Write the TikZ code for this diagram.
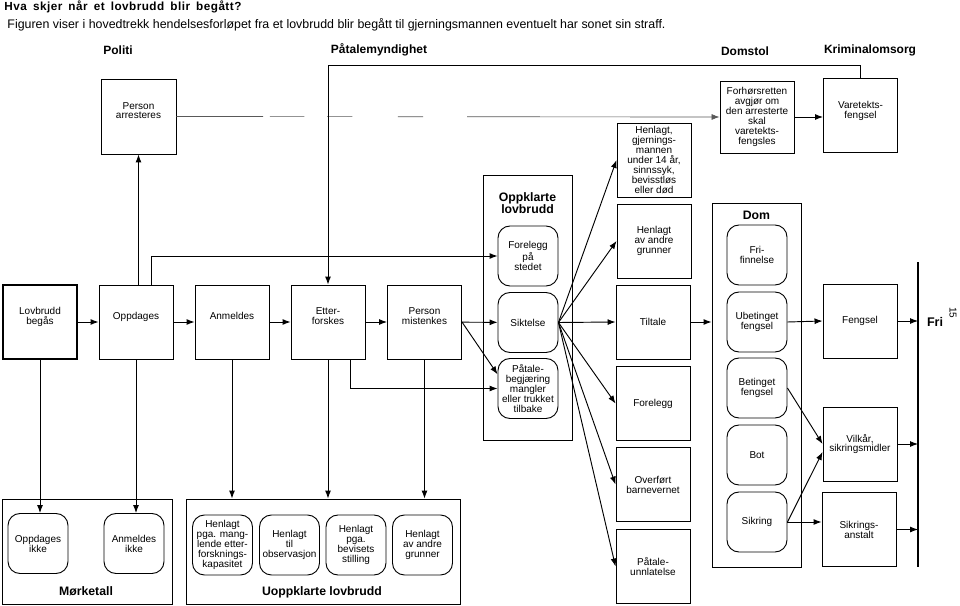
\documentclass[tikz,border=0pt]{standalone}
\usepackage{fontspec}
\setmainfont{Liberation Sans}
\usetikzlibrary{arrows.meta}
\tikzset{
  boks/.style={draw, minimum width=55.5pt, minimum height=55.5pt, align=center,
    inner sep=1pt, font=\fontsize{7.5}{7.4}\selectfont},
  hevet/.style={text depth=9pt},
  rboks/.style={boks, rounded corners=9pt, minimum width=45pt, minimum height=45pt},
  ramme/.style={draw, inner sep=0pt},
  overskrift/.style={font=\bfseries\fontsize{9}{10}\selectfont},
  tittel/.style={align=center, font=\bfseries\fontsize{9.2}{9}\selectfont}
}

\begin{document}
\begin{tikzpicture}[x=0.75pt,y=-0.75pt,line width=0.7pt,>={Latex[length=6pt,width=4.5pt]}]
\useasboundingbox (0,0) rectangle (960,606);
\node [anchor=base west, inner sep=0pt, font=\bfseries\fontsize{8.8}{10}\selectfont] (tittel) at (4,10.5)
  {\addfontfeature{LetterSpace=4}\spaceskip=4.6pt\relax Hva skjer når et lovbrudd blir begått?};
\node [anchor=base west, inner sep=0pt, font=\fontsize{9.3}{10}\selectfont] (ingress) at (7,28.5)
  {Figuren viser i hovedtrekk hendelsesforløpet fra et lovbrudd blir begått til gjerningsmannen eventuelt har sonet sin straff.};
\node [overskrift] (politi) at (118,50) {Politi};
\node [overskrift] (patale) at (379,50) {Påtalemyndighet};
\node [overskrift] (domstol) at (745,51) {Domstol};
\node [overskrift] (kriminal) at (870,50) {Kriminalomsorg};

\node [ramme, minimum width=66.75pt, minimum height=198.75pt] (oppklart) at (527.5,307.5) {};
\node [ramme, minimum width=66.75pt, minimum height=273pt] (dom) at (756.5,385) {};
\node [ramme, minimum width=127.5pt, minimum height=78.75pt] (morke) at (87,551.5) {};
\node [ramme, minimum width=205.5pt, minimum height=78.75pt] (uoppklart) at (323,551.5) {};
\node [tittel] (oppklarttekst) at (527.5,203) {Oppklarte\\lovbrudd};
\node [tittel] (domtekst) at (756.5,215) {Dom};
\node [tittel] (morketekst) at (86,591) {Mørketall};
\node [tittel] (uoppklarttekst) at (322,592) {Uoppklarte lovbrudd};

\node [boks, hevet, minimum width=56.25pt, minimum height=56.25pt] (arrestert) at (138.5,116.5) {Person\\arresteres};
\node [boks, hevet, line width=1.3pt] (lovbrudd) at (40,322) {Lovbrudd\\begås};
\node [boks, hevet] (oppdages) at (136,322) {Oppdages};
\node [boks, hevet] (anmeldes) at (232,322) {Anmeldes};
\node [boks, hevet] (etterforskes) at (328,322) {Etter-\\forskes};
\node [boks, hevet] (mistenkes) at (424.5,322) {Person\\mistenkes};

\node [rboks] (stedet) at (528,256) {Forelegg\\på\\stedet};
\node [rboks] (siktelse) at (528,322.5) {Siktelse};
\node [rboks] (begjaring) at (528,388.5) {Påtale-\\begjæring\\mangler\\eller trukket\\tilbake};

\node [boks, minimum height=54pt] (forhor) at (757,117) {Forhørsretten\\avgjør om\\den arresterte\\skal\\varetekts-\\fengsles};
\node [boks, hevet] (varetekt) at (860.5,115.5) {Varetekts-\\fengsel};
\node [boks] (henlagtgj) at (654,160) {Henlagt,\\gjernings-\\mannen\\under 14 år,\\sinnssyk,\\bevisstløs\\eller død};
\node [boks] (henlagtandre) at (654,241) {Henlagt\\av andre\\grunner};
\node [boks] (tiltale) at (653,322) {Tiltale};
\node [boks] (forelegg) at (653,403.5) {Forelegg};
\node [boks] (overfort) at (653,484.5) {Overført\\barnevernet};
\node [boks] (unnlatelse) at (653,566.5) {Påtale-\\unnlatelse};

\node [rboks] (frifinn) at (757,255) {Fri-\\finnelse};
\node [rboks] (ubetinget) at (757,322) {Ubetinget\\fengsel};
\node [rboks] (betinget) at (757,388) {Betinget\\fengsel};
\node [rboks] (bot) at (757,455) {Bot};
\node [rboks] (sikring) at (757,522) {Sikring};

\node [boks] (fengsel) at (860,321) {Fengsel};
\node [boks] (vilkar) at (860,444) {Vilkår,\\sikringsmidler};
\node [boks] (anstalt) at (859,529.5) {Sikrings-\\anstalt};

\node [rboks] (oppikke) at (38,543.5) {Oppdages\\ikke};
\node [rboks] (anmikke) at (134,543.5) {Anmeldes\\ikke};
\node [rboks] (hmang) at (222.5,545) {Henlagt\\pga. mang-\\lende etter-\\forsknings-\\kapasitet};
\node [rboks] (hobs) at (289.5,545) {Henlagt\\til\\observasjon};
\node [rboks] (hbevis) at (356,545) {Henlagt\\pga.\\bevisets\\stilling};
\node [rboks] (handre) at (422.5,545) {Henlagt\\av andre\\grunner};

\node [font=\bfseries\fontsize{9.4}{10}\selectfont] (fri) at (935,322) {Fri};
\node [rotate=-90, font=\fontsize{7.5}{10}\selectfont] (side) at (953,313) {15};
\coordinate (friopp) at (918,262);
\coordinate (frined) at (918,567);
\coordinate (topp) at (330,65);

\draw [->] (lovbrudd) -- (oppdages);
\draw [->] (oppdages) -- (anmeldes);
\draw [->] (anmeldes) -- (etterforskes);
\draw [->] (etterforskes) -- (mistenkes);
\draw [->] (mistenkes) -- (siktelse);
\draw [->] (mistenkes.east) -- (begjaring.155);
\draw [->] ([xshift=16.5pt]etterforskes.south) |- (begjaring.west);
\draw [->] (arrestert.south |- oppdages.north) -- (arrestert.south);
\draw [->] ([xshift=11.25pt]oppdages.north) |- (stedet.west);
\draw [->, gray!70!black, line width=0.5pt, dash pattern=on 65pt off 5pt on 26pt off 17pt on 19pt off 34pt on 19pt off 33pt on 220pt]
  (arrestert.east) -- (forhor.west);
\draw [->] (forhor.east) -- (forhor.east -| varetekt.west);
\draw [->] (varetekt.north) |- (topp -| etterforskes.north) -- (etterforskes.north);

\draw [->] (lovbrudd.south) -- (lovbrudd.south |- oppikke.north);
\draw [->] (oppdages.south) -- (oppdages.south |- anmikke.north);
\draw [->] (anmeldes.south) -- (anmeldes.south |- uoppklart.north);
\draw [->] (etterforskes.south) -- (etterforskes.south |- uoppklart.north);
\draw [->] (mistenkes.south) -- (mistenkes.south |- uoppklart.north);

\draw [->] (siktelse.east) -- (henlagtgj.west);
\draw [->] (siktelse.east) -- (henlagtandre.west);
\draw [->] (siktelse.east) -- (tiltale.west);
\draw [->] (siktelse.east) -- (forelegg.west);
\draw [->] (siktelse.east) -- (overfort.west);
\draw [->] (siktelse.east) -- (unnlatelse.west);
\draw [->] (tiltale.east) -- (tiltale.east -| dom.west);

\draw [->] (ubetinget.east) -- (fengsel.west);
\draw [->] (betinget.east) -- (vilkar.west);
\draw [->] (sikring.east) -- ([yshift=-6pt]vilkar.west);
\draw [->] (sikring.east) -- (sikring.east -| anstalt.west);
\draw [line width=1.6pt] (friopp) -- (frined);
\draw [->] (fengsel.east) -- (fengsel.east -| friopp);
\draw [->] (vilkar.east) -- (vilkar.east -| friopp);
\draw [->] (anstalt.east) -- (anstalt.east -| friopp);
\end{tikzpicture}
\end{document}
